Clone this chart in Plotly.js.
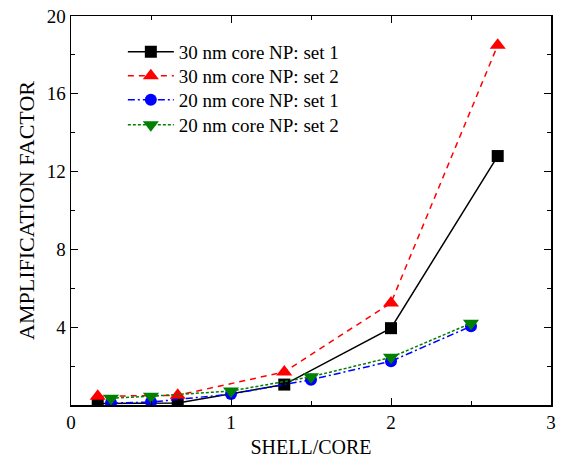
<!DOCTYPE html>
<html><head><meta charset="utf-8">
<script src="https://cdn.plot.ly/plotly-3.0.1.min.js"></script>
<style>html,body{margin:0;padding:0;background:#fff}</style>
</head><body><div id="chart" style="width:564px;height:458px"></div>
<script>
const names = ["30 nm core NP: set 1","30 nm core NP: set 2","20 nm core NP: set 1","20 nm core NP: set 2"];
const x30 = [0.167, 0.667, 1.333, 2, 2.667];
const x20 = [0.25, 0.5, 1, 1.5, 2, 2.5];
const y30set1 = [0.08, 0.1, 1.05, 3.95, 12.8];
const y30set2 = [0.45, 0.5, 1.7, 5.25, 18.5];
const y20set1 = [0.1, 0.15, 0.56, 1.3, 2.25, 4.05];
const y20set2 = [0.35, 0.45, 0.72, 1.45, 2.45, 4.2];
const yTicks = [4, 8, 12, 16, 20];
const xTicks = [0, 1, 2, 3];

const traces = [
  {x: x30, y: y30set1, name: names[0], mode: 'lines+markers', legend: 'legend',
   line: {color: 'black', width: 1.5, dash: 'solid'},
   marker: {symbol: 'square', size: 12, color: 'black'}},
  {x: x30, y: y30set2, name: names[1], mode: 'lines+markers', legend: 'legend2',
   line: {color: 'red', width: 1.5, dash: '6px,5px'},
   marker: {symbol: 'triangle-up', size: 14, color: 'red'}},
  {x: x20, y: y20set1, name: names[2], mode: 'lines+markers', legend: 'legend3',
   line: {color: 'blue', width: 1.5, dash: '7px,3px,2px,3px'},
   marker: {symbol: 'circle', size: 12, color: 'blue'}},
  {x: x20, y: y20set2, name: names[3], mode: 'lines+markers', legend: 'legend4',
   line: {color: 'green', width: 1.5, dash: '3px,2px'},
   marker: {symbol: 'triangle-down', size: 14, color: 'green'}}
];

const fontFam = 'Liberation Serif, Times New Roman, serif';
function leg(yc) {
  return {x: 0.108, y: yc, xanchor: 'left', yanchor: 'middle',
    font: {family: fontFam, size: 19, color: 'black'},
    bgcolor: 'rgba(0,0,0,0)', itemwidth: 46};
}
const layout = {
  width: 564, height: 458,
  margin: {l: 71, r: 13, t: 16, b: 53},
  paper_bgcolor: 'white', plot_bgcolor: 'white',
  font: {family: fontFam, color: 'black', size: 19},
  showlegend: true,
  legend: leg(0.9075), legend2: leg(0.8458), legend3: leg(0.7841), legend4: leg(0.7198),
  xaxis: {range: [0, 3], tickvals: xTicks, ticktext: xTicks.map(String),
    showgrid: false, zeroline: false, showline: true, linecolor: 'black', linewidth: 1.5,
    mirror: 'ticks', ticks: 'inside', ticklen: 7, tickwidth: 1, tickcolor: 'black',
    minor: {dtick: 0.5, tick0: 0, ticks: 'inside', ticklen: 4, tickcolor: 'black', showgrid: false},
    tickfont: {family: fontFam, size: 19},
    title: {text: 'SHELL/CORE', font: {family: fontFam, size: 20}, standoff: 7}},
  yaxis: {range: [0, 20], tickvals: yTicks, ticktext: yTicks.map(String),
    showgrid: false, zeroline: false, showline: true, linecolor: 'black', linewidth: 1.5,
    mirror: 'ticks', ticks: 'inside', ticklen: 7, tickwidth: 1, tickcolor: 'black',
    minor: {dtick: 2, tick0: 0, ticks: 'inside', ticklen: 4, tickcolor: 'black', showgrid: false},
    tickfont: {family: fontFam, size: 19},
    title: {text: 'AMPLIFICATION FACTOR', font: {family: fontFam, size: 22}, standoff: 6}}
};
Plotly.newPlot('chart', traces, layout, {displayModeBar: false, staticPlot: true});
</script></body></html>
